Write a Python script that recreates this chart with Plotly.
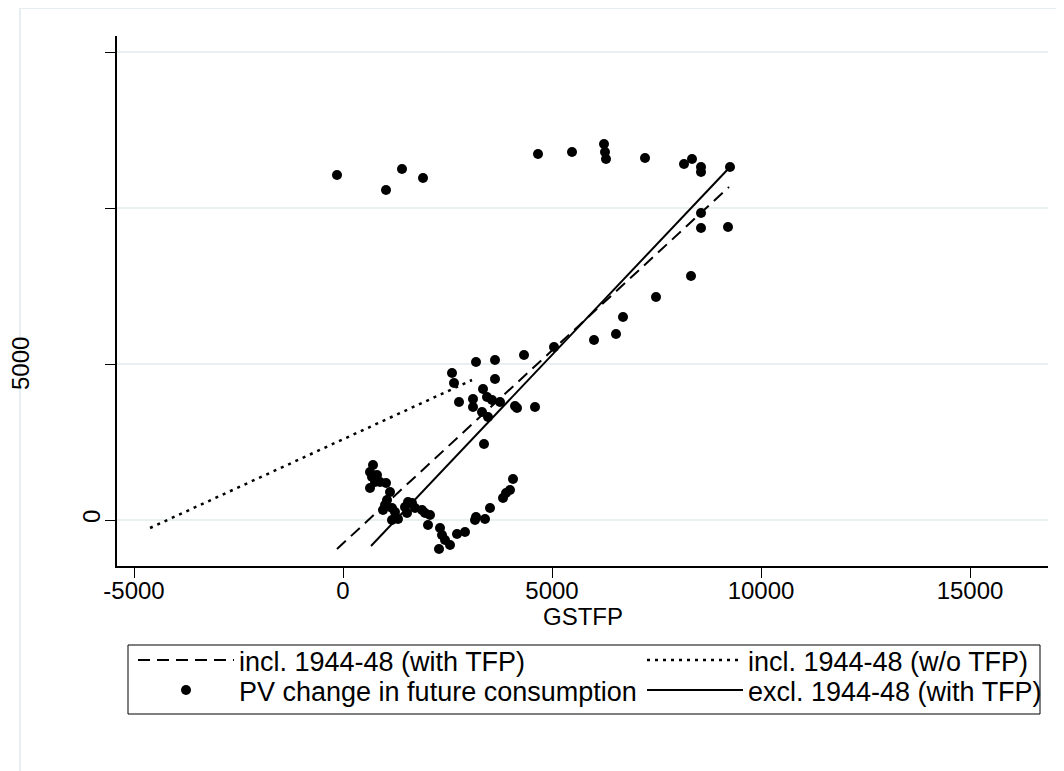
import plotly.graph_objects as go

# ---- data ----
gstfp = [-144, 1029, 1411, 1914,
         4665, 5478, 6244, 6268, 6292, 7225, 8158, 8349, 8565, 8565, 9258,
         8565, 8565, 9211, 8325, 7488, 6699, 6531, 6005, 5048,
         4330, 3636, 3182, 2608, 2656, 3636, 3349, 2775, 3110, 3110, 3445, 3565,
         3756, 3325, 3469, 4115, 4163, 4593, 3373,
         718, 646, 694, 813, 766, 646, 885, 1029, 1124, 1053, 1005, 957, 1172,
         1244, 1172, 1316, 1483, 1555, 1651, 1531, 1722, 1890, 1962, 2081, 2033,
         2321, 2368, 2440, 2297, 2560, 2727, 2919, 3158, 3182, 3397, 3517, 3828,
         3900, 3995, 4067]
pv_change = [11058, 10577, 11250, 10962,
             11731, 11795, 12051, 11795, 11571, 11603, 11410, 11571, 11314, 11154, 11314,
             9840, 9359, 9391, 7821, 7147, 6506, 5962, 5769, 5545,
             5288, 5128, 5064, 4712, 4391, 4519, 4199, 3782, 3878, 3622, 3942, 3846,
             3782, 3462, 3301, 3654, 3590, 3622, 2436,
             1763, 1538, 1378, 1442, 1218, 1026, 1218, 1186, 898, 641, 481, 321, 385,
             256, 0, 32, 417, 577, 545, 224, 385, 321, 224, 160, -160,
             -256, -481, -641, -929, -801, -449, -385, 0, 96, 32, 385, 705,
             865, 962, 1314]

fit_incl_tfp_x = [-144, 9234]
fit_incl_tfp_y = [-929, 10673]
fit_incl_notfp_x = [-4617, 3086]
fit_incl_notfp_y = [-256, 4487]
fit_excl_tfp_x = [670, 9258]
fit_excl_tfp_y = [-833, 11314]

x_tickvals = [-5000, 0, 5000, 10000, 15000]
x_ticktext = ["-5000", "0", "5000", "10000", "15000"]
x_title = "GSTFP"
y_tickvals = [0, 5000, 10000, 15000]
y_ticktext = ["0", "", "", ""]
y_side_label = "5000"
y_side_label_value = 5000

FONT = "Liberation Sans, Arial, sans-serif"
TICK_SIZE = 24
LEG_SIZE = 27

fig = go.Figure()
fig.add_trace(go.Scatter(x=gstfp, y=pv_change, mode="markers",
                         name="PV change in future consumption",
                         marker=dict(color="black", size=10, line=dict(width=0)),
                         legend="legend3"))
fig.add_trace(go.Scatter(x=fit_incl_tfp_x, y=fit_incl_tfp_y, mode="lines",
                         name="incl. 1944-48 (with TFP)",
                         line=dict(color="black", width=2, dash="12px,7px"),
                         legend="legend"))
fig.add_trace(go.Scatter(x=fit_incl_notfp_x, y=fit_incl_notfp_y, mode="lines",
                         name="incl. 1944-48 (w/o TFP)",
                         line=dict(color="black", width=2.5, dash="3px,5px"),
                         legend="legend2"))
fig.add_trace(go.Scatter(x=fit_excl_tfp_x, y=fit_excl_tfp_y, mode="lines",
                         name="excl. 1944-48 (with TFP)",
                         line=dict(color="black", width=2),
                         legend="legend4"))

# page offset of the plotly div inside the browser body
OFF = 8
W, H = 1064, 771
L, R, T, B = 117 - OFF, 24, 36 - OFF, 771 - (566 - OFF)
pw, ph = W - L - R, H - T - B

def px_x(p):
    return (p - OFF - L) / pw

def px_y(p):
    return (H - B - (p - OFF)) / ph

leg_common = dict(orientation="v", xanchor="left", yanchor="top",
                  borderwidth=0, bgcolor="rgba(0,0,0,0)",
                  itemwidth=96, traceorder="normal", tracegroupgap=0,
                  font=dict(family=FONT, size=LEG_SIZE, color="black"))

ROW1, ROW2 = 636, 666
COL1, COL2 = 133, 642

fig.update_layout(
    width=W, height=H, autosize=False,
    margin=dict(l=L, r=R, t=T, b=B, autoexpand=False),
    paper_bgcolor="white", plot_bgcolor="white",
    font=dict(family=FONT, size=TICK_SIZE, color="black"),
    showlegend=True,
    legend=dict(x=px_x(COL1), y=px_y(ROW1), **leg_common),
    legend2=dict(x=px_x(COL2), y=px_y(ROW1), **leg_common),
    legend3=dict(x=px_x(COL1), y=px_y(ROW2), **leg_common),
    legend4=dict(x=px_x(COL2), y=px_y(ROW2), **leg_common),
    xaxis=dict(range=[-5407, 16866], tickvals=x_tickvals, ticktext=x_ticktext,
               showgrid=False, zeroline=False, showline=True, linecolor="black", linewidth=1.5,
               ticks="outside", ticklen=10, tickwidth=1.2, tickcolor="black",
               ticklabelstandoff=-8, tickfont=dict(size=TICK_SIZE)),
    yaxis=dict(range=[-1474, 15513], tickvals=y_tickvals, ticktext=y_ticktext,
               showgrid=True, gridcolor="#e9f0f2", gridwidth=2,
               zeroline=False, showline=True, linecolor="black", linewidth=1.5,
               ticks="outside", ticklen=10, tickwidth=1.2, tickcolor="black",
               ticklabelstandoff=-4, tickangle=-90, tickfont=dict(size=TICK_SIZE)),
    shapes=[
        dict(type="rect", xref="paper", yref="paper",
             x0=px_x(20), x1=px_x(1080), y0=px_y(790), y1=px_y(8),
             line=dict(color="#e6eef1", width=2), fillcolor="rgba(0,0,0,0)", layer="below"),
        dict(type="rect", xref="paper", yref="paper",
             x0=px_x(128), x1=px_x(1040), y0=px_y(714), y1=px_y(645),
             line=dict(color="black", width=1), fillcolor="rgba(0,0,0,0)"),
    ],
    annotations=[
        dict(text=y_side_label, xref="paper", yref="y", x=px_x(20), y=y_side_label_value,
             textangle=-90, showarrow=False, xanchor="center", yanchor="middle",
             font=dict(size=TICK_SIZE)),
        dict(text=x_title, xref="paper", yref="paper", x=0.5, y=px_y(616),
             showarrow=False, xanchor="center", yanchor="middle",
             font=dict(size=TICK_SIZE)),
    ],
)

fig.write_html("out.html")
